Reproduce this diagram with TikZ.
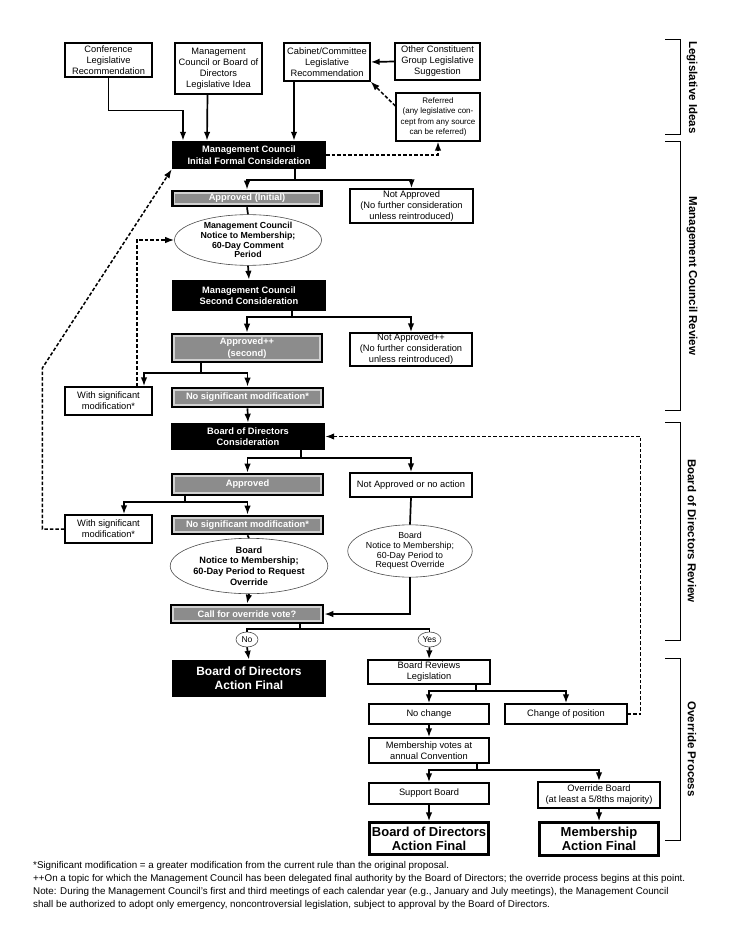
\documentclass[tikz,border=0pt]{standalone}
\usepackage{fontspec}
\setmainfont{Liberation Sans}
\usetikzlibrary{arrows.meta, shapes.geometric}

\begin{document}
\begin{tikzpicture}[x=1pt, y=-1pt,
  box/.style={draw, line width=1.3pt, fill=white, align=center, inner sep=0pt, font=\fontsize{9.3}{11}\selectfont},
  blk/.style={fill=black, text=white, align=center, inner sep=0pt, font=\bfseries\fontsize{9.3}{11.5}\selectfont},
  gry/.style={draw=black, line width=2.6pt, fill=black!45, text=white, align=center, inner sep=0pt, font=\bfseries\fontsize{9.3}{11.5}\selectfont,
    path picture={\draw[black!18, line width=1.1pt] ([shift={(2pt,-2pt)}]path picture bounding box.north west) rectangle ([shift={(-2pt,2pt)}]path picture bounding box.south east);}},
  oval/.style={ellipse, draw=black!70, line width=0.6pt, fill=white, align=center, inner sep=0pt},
  fin/.style={draw, line width=2.2pt, fill=white, align=center, inner sep=0pt, font=\bfseries\fontsize{13}{14}\selectfont},
  conn/.style={line width=1.7pt},
  arr/.style={conn, -{Latex[length=9pt,width=6.5pt]}},
  darr/.style={line width=1.5pt, dash pattern=on 3.5pt off 2pt, -{Latex[length=9pt,width=6.5pt]}}]
  \useasboundingbox (0,0) rectangle (733,949);

  % legislative ideas
  \node[box, minimum width=87, minimum height=34] (conf) at (108.5,60) {Conference\\Legislative\\Recommendation};
  \node[box, minimum width=87, minimum height=51] (idea) at (218.5,68.5) {Management\\Council or Board of\\Directors\\Legislative Idea};
  \node[box, minimum width=86, minimum height=38] (cab) at (327,62) {Cabinet/Committee\\Legislative\\Recommendation};
  \node[box, minimum width=85, minimum height=37] (other) at (437.5,61.5) {Other Constituent\\Group Legislative\\Suggestion};
  \node[box, minimum width=84, minimum height=48, font=\fontsize{8}{10.3}\selectfont] (refer) at (438,117) {Referred\\(any legislative con-\\cept from any source\\can be referred)};

  % management council review
  \node[blk, minimum width=154, minimum height=28] (mcinit) at (249,155) {Management Council\\Initial Formal Consideration};
  \node[gry, minimum width=149, minimum height=15] (appr1) at (247,198.5) {Approved (Initial)};
  \node[box, minimum width=123, minimum height=34] (notappr1) at (411.5,206) {Not Approved\\(No further consideration\\unless reintroduced)};
  \node[oval, minimum width=147, minimum height=44, font=\bfseries\fontsize{8.8}{9.8}\selectfont] (mcnote) at (248,240) {Management Council\\Notice to Membership;\\60-Day Comment\\Period};
  \node[blk, minimum width=154, minimum height=31] (mcsecond) at (249,295.5) {Management Council\\Second Consideration};
  \node[gry, minimum width=150, minimum height=28] (appr2) at (247,348) {Approved++\\(second)};
  \node[box, minimum width=122, minimum height=33] (notappr2) at (411,349.5) {Not Approved++\\(No further consideration\\unless reintroduced)};
  \node[box, minimum width=87, minimum height=28] (sigmod1) at (108.5,401) {With significant\\modification*};
  \node[gry, minimum width=151, minimum height=19] (nosig1) at (247.5,397.5) {No significant modification*};

  % board of directors review
  \node[blk, minimum width=154, minimum height=27] (bodcons) at (248,436.5) {Board of Directors\\Consideration};
  \node[gry, minimum width=151, minimum height=21] (appr3) at (247.5,484.5) {Approved};
  \node[box, minimum width=122, minimum height=24] (notappr3) at (411,485) {Not Approved or no action};
  \node[box, minimum width=87, minimum height=28] (sigmod2) at (108.5,529) {With significant\\modification*};
  \node[gry, minimum width=151, minimum height=18] (nosig2) at (247.5,525) {No significant modification*};
  \node[oval, minimum width=152, minimum height=52, font=\bfseries\fontsize{9.2}{10.8}\selectfont] (bodnote) at (249,566) {Board\\Notice to Membership;\\60-Day Period to Request\\Override};
  \node[oval, minimum width=106, minimum height=45, font=\fontsize{8.8}{9.6}\selectfont] (bodnote2) at (410,551) {Board\\Notice to Membership;\\60-Day Period to\\Request Override};
  \node[gry, minimum width=152, minimum height=18] (callvote) at (247,614) {Call for override vote?};
  \node[oval, minimum width=22, minimum height=15, font=\fontsize{8.5}{9}\selectfont] (no) at (247,639.5) {No};
  \node[oval, minimum width=23, minimum height=15, font=\fontsize{8.5}{9}\selectfont] (yes) at (429.5,639.5) {Yes};
  \node[blk, minimum width=154, minimum height=37, font=\bfseries\fontsize{12}{14}\selectfont] (bodfinal1) at (249,678.5) {Board of Directors\\Action Final};

  % override process
  \node[box, minimum width=122, minimum height=24] (review) at (429,672) {Board Reviews\\Legislation};
  \node[box, minimum width=120, minimum height=20] (nochange) at (429,714) {No change};
  \node[box, minimum width=122, minimum height=20] (changepos) at (566,714) {Change of position};
  \node[box, minimum width=120, minimum height=25] (vote) at (429,750.5) {Membership votes at\\annual Convention};
  \node[box, minimum width=120, minimum height=21] (support) at (429,793.5) {Support Board};
  \node[box, minimum width=122, minimum height=26] (override) at (599,795) {Override Board\\(at least a 5/8ths majority)};
  \node[fin, minimum width=119, minimum height=32] (bodfinal2) at (429,838.5) {Board of Directors\\Action Final};
  \node[fin, minimum width=119, minimum height=33] (memfinal) at (599,839) {Membership\\Action Final};

  % connectors
  \draw[arr] (conf.south) -- ++(0,33) -| ([xshift=-66pt]mcinit.north);
  \draw[arr] ([xshift=-11pt]idea.south) -- ([xshift=-42pt]mcinit.north);
  \draw[arr] ([xshift=-33pt]cab.south) -- ([xshift=45pt]mcinit.north);
  \draw[arr] (other.west) -- (cab.east);
  \draw[darr] ([yshift=11pt]refer.west) -- (cab.south east);
  \draw[darr] (mcinit.east) -| (refer.south);

  \draw[conn] ([xshift=46pt]mcinit.south) -- ++(0,11) coordinate (j1);
  \draw[arr] (j1) -| (appr1.north);
  \draw[arr] (j1) -| (notappr1.north);
  \draw[conn] (appr1.south) -- (mcnote.north);
  \draw[arr] (mcnote.south) -- (mcsecond.north);
  \draw[conn] ([xshift=43pt]mcsecond.south) -- ++(0,6) coordinate (j2);
  \draw[arr] (j2) -| (appr2.north);
  \draw[arr] (j2) -| (notappr2.north);
  \draw[conn] ([xshift=-46pt]appr2.south) -- ++(0,10) coordinate (j3);
  \draw[arr] (j3) -| ([xshift=35.5pt]sigmod1.north);
  \draw[arr] (j3) -| (nosig1.north);
  \draw[darr] ([xshift=28.5pt]sigmod1.north) |- (mcnote.west);
  \draw[arr] (nosig1.south) -- (bodcons.north);

  \draw[conn] ([xshift=53pt]bodcons.south) -- ++(0,8) coordinate (j4);
  \draw[arr] (j4) -| (appr3.north);
  \draw[arr] (j4) -| (notappr3.north);
  \draw[conn] ([xshift=-62.5pt]appr3.south) -- ++(0,6) coordinate (j5);
  \draw[arr] (j5) -| ([xshift=15.5pt]sigmod2.north);
  \draw[arr] (j5) -| (nosig2.north);
  \draw[darr] (sigmod2.west) -- ++(-22,0) -- ++(0,-161) -- (mcinit.south west);
  \draw[conn] (nosig2.south) -- (bodnote.north);
  \draw[arr] (bodnote.south) -- (callvote.north);
  \draw[conn] (notappr3.south) -- (bodnote2.north);
  \draw[arr] (bodnote2.south) |- (callvote.east);

  \draw[conn] ([xshift=53pt]callvote.south) -- ++(0,5) coordinate (j6);
  \draw[conn] (j6) -| (no.north);
  \draw[conn] (j6) -| (yes.north);
  \draw[arr] (no.south) -- (bodfinal1.north);
  \draw[arr] (yes.south) -- (review.north);

  \draw[conn] ([xshift=47pt]review.south) -- ++(0,6) coordinate (j7);
  \draw[arr] (j7) -| (nochange.north);
  \draw[arr] (j7) -| (changepos.north);
  \draw[darr] (changepos.east) -- ++(13,0) |- (bodcons.east);
  \draw[arr] (nochange.south) -- (vote.north);
  \draw[conn] ([xshift=48pt]vote.south) -- ++(0,6) coordinate (j8);
  \draw[arr] (j8) -| (support.north);
  \draw[arr] (j8) -| (override.north);
  \draw[arr] (support.south) -- (bodfinal2.north);
  \draw[arr] (override.south) -- (memfinal.north);

  % side brackets
  \foreach \ya/\yb/\lbl in {40/135/Legislative Ideas, 142/410/Management Council Review, 422/640/Board of Directors Review, 658/840/Override Process}{
    \draw[line width=1pt] (665,\ya) -- (680,\ya) -- (680,\yb) -- (665,\yb);
    \node[rotate=-90, font=\bfseries\fontsize{11.5}{13}\selectfont] (side\ya) at (692,{(\ya+\yb)/2}) {\lbl};
  }

  % notes
  \node[anchor=north west, align=left, inner sep=0pt, font=\fontsize{9.8}{13}\selectfont] (notes) at (33,861) {*Significant modification = a greater modification from the current rule than the original proposal.\\
  ++On a topic for which the Management Council has been delegated final authority by the Board of Directors; the override process begins at this point.\\
  Note: During the Management Council’s first and third meetings of each calendar year (e.g., January and July meetings), the Management Council\\
  shall be authorized to adopt only emergency, noncontroversial legislation, subject to approval by the Board of Directors.};
\end{tikzpicture}
\end{document}
